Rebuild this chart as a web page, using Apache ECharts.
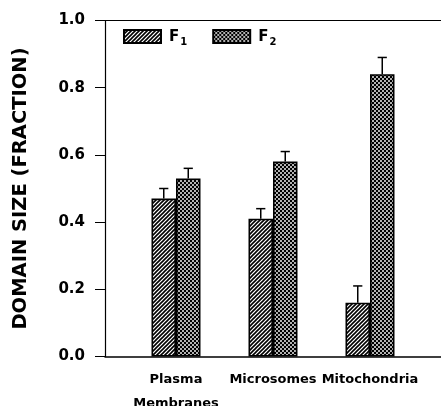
<!DOCTYPE html>
<html>
<head>
<meta charset="utf-8">
<script src="https://cdn.jsdelivr.net/npm/echarts@6/dist/echarts.min.js"></script>
<style>
html,body{margin:0;padding:0;background:#fff;}
#chart{width:441px;height:406px;}
</style>
</head>
<body>
<div id="chart"></div>
<script>
const categories = ['Plasma\nMembranes', 'Microsomes', 'Mitochondria'];
const seriesNames = ['F1', 'F2'];
const f1Values = [0.47, 0.41, 0.16];
const f2Values = [0.53, 0.58, 0.84];
const f1Errors = [0.03, 0.03, 0.05];
const f2Errors = [0.03, 0.03, 0.05];
const yAxisName = 'DOMAIN SIZE (FRACTION)';

function hatchPattern() {
  const c = document.createElement('canvas');
  c.width = 4; c.height = 4;
  const g = c.getContext('2d');
  g.fillStyle = '#fff'; g.fillRect(0, 0, 4, 4);
  g.strokeStyle = '#000'; g.lineWidth = 1.6;
  g.beginPath();
  g.moveTo(-1, 5); g.lineTo(5, -1);
  g.moveTo(-1, 1); g.lineTo(1, -1);
  g.moveTo(3, 5); g.lineTo(5, 3);
  g.stroke();
  return c;
}
function dotPattern() {
  const c = document.createElement('canvas');
  c.width = 4; c.height = 4;
  const g = c.getContext('2d');
  g.fillStyle = '#000'; g.fillRect(0, 0, 4, 4);
  g.fillStyle = '#fff';
  g.beginPath(); g.arc(1, 1, 0.95, 0, Math.PI * 2); g.fill();
  g.beginPath(); g.arc(3, 3, 0.95, 0, Math.PI * 2); g.fill();
  return c;
}
const hatch = { image: hatchPattern(), repeat: 'repeat' };
const dots = { image: dotPattern(), repeat: 'repeat' };

const FONT = 'DejaVu Sans';
const BAR_W = 24.5;

function errSeries(values, errs, offset) {
  return {
    type: 'custom',
    xAxisIndex: 2, yAxisIndex: 1,
    z: 5,
    silent: true,
    data: values.map((v, i) => [i, v, v + errs[i]]),
    encode: { x: 0, y: [1, 2] },
    renderItem: function (params, api) {
      const base = api.coord([api.value(0), api.value(1)]);
      const top = api.coord([api.value(0), api.value(2)]);
      const x = base[0] + offset;
      const st = { stroke: '#000', lineWidth: 1.5 };
      return {
        type: 'group',
        children: [
          { type: 'line', shape: { x1: x, y1: base[1], x2: x, y2: top[1] }, style: st },
          { type: 'line', shape: { x1: x - 4.6, y1: top[1], x2: x + 4.6, y2: top[1] }, style: st }
        ]
      };
    }
  };
}

const chart = echarts.init(document.getElementById('chart'));
chart.setOption({
  animation: false,
  backgroundColor: '#fff',
  textStyle: { fontFamily: FONT, fontWeight: 'bold', color: '#000' },
  legend: {
    data: seriesNames,
    left: 123, top: 29, padding: 0,
    icon: 'rect',
    itemWidth: 37, itemHeight: 13, itemGap: 25,
    selectedMode: false,
    formatter: function (name) { return '{b|' + name.charAt(0) + '}{s|' + name.slice(1) + '}'; },
    textStyle: {
      padding: [4, 0, 0, 3],
      rich: {
        b: { fontFamily: FONT, fontWeight: 'bold', fontSize: 15, color: '#000', lineHeight: 18, verticalAlign: 'top' },
        s: { fontFamily: FONT, fontWeight: 'bold', fontSize: 10, color: '#000', lineHeight: 18, verticalAlign: 'bottom', padding: [8, 0, 0, 1] }
      }
    }
  },
  grid: [
    { left: 105, right: 0, top: 20.5, bottom: 49.5, containLabel: false, outerBoundsMode: 'none' },
    { left: 127.5, width: 291, top: 20.5, bottom: 49.5, containLabel: false, outerBoundsMode: 'none' }
  ],
  xAxis: [
    { gridIndex: 0, type: 'value', min: 0, max: 1,
      axisLine: { show: true, lineStyle: { color: '#000', width: 1.5 } },
      axisTick: { show: false }, axisLabel: { show: false }, splitLine: { show: false } },
    { gridIndex: 0, type: 'value', position: 'top', min: 0, max: 1,
      axisLine: { show: true, lineStyle: { color: '#000', width: 1.2 } },
      axisTick: { show: false }, axisLabel: { show: false }, splitLine: { show: false } },
    { gridIndex: 1, type: 'category', data: categories,
      axisLine: { show: false }, axisTick: { show: false }, splitLine: { show: false },
      axisLabel: { fontFamily: FONT, fontWeight: 'bold', fontSize: 13, color: '#000', margin: 11, lineHeight: 24, interval: 0 } }
  ],
  yAxis: [
    { gridIndex: 0, type: 'value', min: 0, max: 1, interval: 0.2,
      name: yAxisName, nameLocation: 'middle', nameGap: 74, nameRotate: 90,
      nameTextStyle: { fontFamily: FONT, fontWeight: 'bold', fontSize: 19.5, color: '#000' },
      axisLine: { show: true, lineStyle: { color: '#000', width: 1.2 } },
      axisTick: { show: true, inside: false, length: 10, lineStyle: { color: '#000', width: 1 } },
      axisLabel: { fontFamily: FONT, fontWeight: 'bold', fontSize: 15, color: '#000', margin: 20,
        formatter: function (v) { return v.toFixed(1); } },
      splitLine: { show: false } },
    { gridIndex: 1, type: 'value', min: 0, max: 1, show: false }
  ],
  series: [
    { name: 'F1', type: 'bar', xAxisIndex: 2, yAxisIndex: 1, data: f1Values,
      barWidth: BAR_W, barGap: '0%',
      itemStyle: { color: hatch, borderColor: '#000', borderWidth: 1.6 } },
    { name: 'F2', type: 'bar', xAxisIndex: 2, yAxisIndex: 1, data: f2Values,
      barWidth: BAR_W, barGap: '0%',
      itemStyle: { color: dots, borderColor: '#000', borderWidth: 1.6 } },
    errSeries(f1Values, f1Errors, -BAR_W / 2),
    errSeries(f2Values, f2Errors, BAR_W / 2)
  ]
});
</script>
</body>
</html>
